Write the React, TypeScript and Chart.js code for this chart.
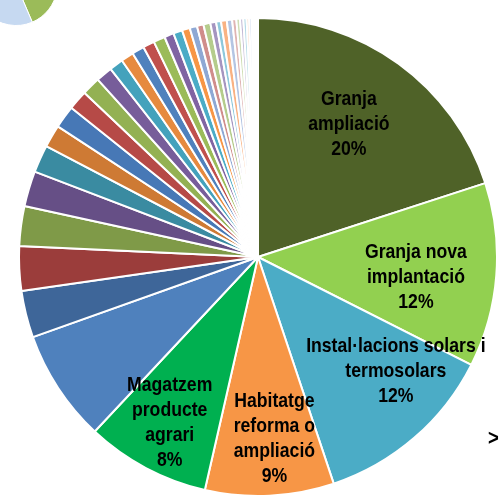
import { useEffect, useRef } from "react";
import { Chart, registerables } from "chart.js";

Chart.register(...registerables);

// Main pie: categories (clockwise from 12 o'clock)
const categories: string[] = [
  "Granja ampliació",
  "Granja nova implantació",
  "Instal·lacions solars i termosolars",
  "Habitatge reforma o ampliació",
  "Magatzem producte agrari",
  "Altres 1", "Altres 2", "Altres 3", "Altres 4", "Altres 5",
  "Altres 6", "Altres 7", "Altres 8", "Altres 9", "Altres 10",
  "Altres 11", "Altres 12", "Altres 13", "Altres 14", "Altres 15",
  "Altres 16", "Altres 17", "Altres 18", "Altres 19", "Altres 20",
  "Altres 21", "Altres 22", "Altres 23", "Altres 24", "Altres 25",
  "Altres 26", "Altres 27", "Altres 28", "Altres 29", "Altres 30",
  "Altres 31", "Altres 32", "Altres 33", "Altres 34", "Altres 35",
  "Altres 36", "Altres 37", "Altres 38",
];

// Shares in percent
const values: number[] = [
  20.0, 12.45, 12.42, 8.7, 8.4,
  7.59, 3.17, 3.0, 2.69, 2.39,
  1.86, 1.53, 1.53, 1.33, 1.25,
  1.11, 0.94, 0.86, 0.83, 0.78,
  0.78, 0.64, 0.61, 0.53, 0.5,
  0.44, 0.47, 0.39, 0.33, 0.39,
  0.36, 0.28, 0.25, 0.22, 0.22,
  0.17, 0.17, 0.11, 0.1, 0.08,
  0.06, 0.04, 0.03,
];

const colors: string[] = [
  "#4F6228", "#92D050", "#4BACC6", "#F79646", "#00B050",
  "#4F81BD", "#3E6699", "#9B3D3B", "#7F9A48", "#664F86",
  "#3A8BA1", "#CE7A34", "#4778B6", "#B64A47", "#93B153",
  "#775D9A", "#44A2BC", "#E68A3F", "#4F81BD", "#C0504D",
  "#9BBB59", "#8064A2", "#4BACC6", "#F79646", "#8EA8D4",
  "#D08D8B", "#B5CC8C", "#A595C0", "#8DC8DB", "#F9B283",
  "#B4C5E3", "#DFB4B3", "#CFDDB4", "#C3B9D5", "#B5DBE7",
  "#FBCAA7", "#CDD8ED", "#EACDCC", "#DFE9CC", "#D8D1E5",
  "#CFE8F0", "#FDDCC6", "#DDE5F3",
];

// Text lines of the labelled slices (percent appended from data)
const labelLines: string[][] = [
  ["Granja", "ampliació"],
  ["Granja nova", "implantació"],
  ["Instal·lacions solars i", "termosolars"],
  ["Habitatge", "reforma o", "ampliació"],
  ["Magatzem", "producte", "agrari"],
];

// Partial neighbouring pie at the top-left corner
const sideCategories: string[] = ["A", "B", "C"];
const sideValues: number[] = [15.8, 36.9, 47.3];
const sideColors: string[] = ["#9BBB59", "#C6D9F1", "#4F81BD"];

// label placement: [angle shift in degrees, fraction of radius]
const labelPlacement: [number, number][] = [
  [-2, 0.68],
  [2.1, 0.665],
  [-9.9, 0.745],
  [-2.4, 0.755],
  [0.3, 0.78],
];

const LINE_H = 25;
const SCALE_X = 0.84;
const FONT = 'bold 21px "Liberation Sans", Arial, sans-serif';

const labelPlugin = {
  id: "sliceLabels",
  afterDatasetsDraw(chart: any) {
    const ctx = chart.ctx as CanvasRenderingContext2D;
    const meta = chart.getDatasetMeta(0);
    const total = values.reduce((a, b) => a + b, 0);
    ctx.save();
    ctx.fillStyle = "#000";
    ctx.font = FONT;
    ctx.textAlign = "center";
    ctx.textBaseline = "alphabetic";
    labelLines.forEach((lines, i) => {
      const arc = meta.data[i];
      const p = arc.getProps(["x", "y", "startAngle", "endAngle", "outerRadius"], true);
      const [shiftDeg, frac] = labelPlacement[i];
      const mid = (p.startAngle + p.endAngle) / 2 + (shiftDeg * Math.PI) / 180;
      const r = p.outerRadius * frac;
      const cx = p.x + Math.cos(mid) * r;
      const cy = p.y + Math.sin(mid) * r;
      const all = [...lines, Math.round((values[i] / total) * 100) + "%"];
      const n = all.length;
      all.forEach((t, k) => {
        const by = cy + (k - (n - 1) / 2) * LINE_H + 7.5;
        ctx.save();
        ctx.translate(cx, by);
        ctx.scale(SCALE_X, 1);
        ctx.fillText(t, 0, 0);
        ctx.restore();
      });
    });
    ctx.font = 'bold 22px "Liberation Sans", Arial, sans-serif';
    ctx.textAlign = "left";
    ctx.save();
    ctx.translate(488, 445);
    ctx.scale(SCALE_X, 1);
    ctx.fillText(">", 0, 0);
    ctx.restore();
    ctx.restore();
  },
};

export default function App() {
  const mainRef = useRef<HTMLCanvasElement>(null);
  const sideRef = useRef<HTMLCanvasElement>(null);

  useEffect(() => {
    const main = new Chart(mainRef.current!, {
      type: "pie",
      data: {
        labels: categories,
        datasets: [
          {
            data: values,
            backgroundColor: colors,
            borderColor: "#ffffff",
            borderWidth: 2,
          },
        ],
      },
      options: {
        responsive: false,
        animation: false,
        devicePixelRatio: 1,
        layout: { padding: { left: 18, right: 2, top: 17, bottom: 0 } },
        plugins: { legend: { display: false }, tooltip: { enabled: false } },
      },
      plugins: [labelPlugin],
    });
    const side = new Chart(sideRef.current!, {
      type: "pie",
      data: {
        labels: sideCategories,
        datasets: [
          {
            data: sideValues,
            backgroundColor: sideColors,
            borderColor: "#ffffff",
            borderWidth: 1,
          },
        ],
      },
      options: {
        responsive: false,
        animation: false,
        devicePixelRatio: 1,
        rotation: 100,
        layout: { padding: 4 },
        plugins: { legend: { display: false }, tooltip: { enabled: false } },
      },
    });
    return () => {
      main.destroy();
      side.destroy();
    };
  }, []);

  return (
    <div
      style={{
        position: "fixed",
        left: 0,
        top: 0,
        width: 500,
        height: 497,
        overflow: "hidden",
        background: "#fff",
      }}
    >
      <canvas
        ref={sideRef}
        width={92}
        height={92}
        style={{ position: "absolute", left: -30, top: -62 }}
      />
      <canvas
        ref={mainRef}
        width={500}
        height={497}
        style={{ position: "absolute", left: 0, top: 0 }}
      />
    </div>
  );
}
